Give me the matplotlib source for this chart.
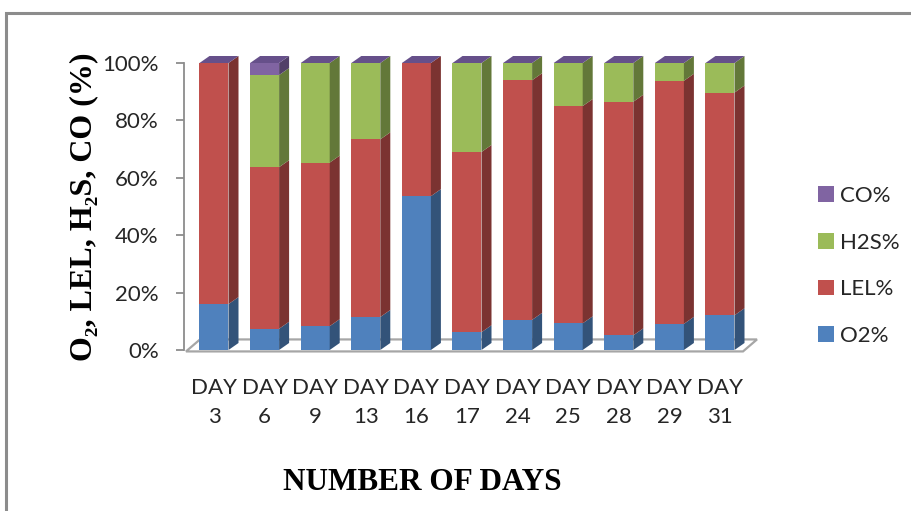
import numpy as np
import matplotlib.pyplot as plt
from matplotlib.patches import Polygon, Patch, Rectangle
from matplotlib.colors import to_rgb

plt.rcParams['font.family'] = ['Lato', 'DejaVu Sans']

# Sampling days and gas shares (% of each column)
days = ['3', '6', '9', '13', '16', '17', '24', '25', '28', '29', '31']
o2 = [16.0, 7.4, 8.3, 11.5, 53.6, 6.2, 10.5, 9.3, 5.1, 9.1, 12.1]
lel = [84.0, 56.3, 57.0, 61.9, 46.4, 62.8, 83.5, 75.7, 81.4, 84.7, 77.6]
h2s = [0.0, 32.1, 34.7, 26.6, 0.0, 31.0, 6.0, 15.0, 13.5, 6.2, 10.3]
co = [0.0, 4.2, 0.0, 0.0, 0.0, 0.0, 0.0, 0.0, 0.0, 0.0, 0.0]

series = [('O2%', o2, '#4f81bd'), ('LEL%', lel, '#c0504d'),
          ('H2S%', h2s, '#9bbb59'), ('CO%', co, '#8064a2')]

def shade(c, f):
    r, g, b = to_rgb(c)
    return (r * f, g * f, b * f)

fig = plt.figure(figsize=(9.12, 5.11), dpi=100)
W, H = 912, 511
# axes placed in pixel terms: x index 0 at 214px, 50.6px per bar; y 0..100 -> 350..63px
px_per_bar = 50.6
xl, xr = -0.6, 10.6
ax_left = 214 + xl * px_per_bar
ax_w = (xr - xl) * px_per_bar
ax_bot = 350
ax_h = 350 - 63
ax = fig.add_axes([ax_left / W, 1 - ax_bot / H, ax_w / W, ax_h / H])
ax.set_xlim(xl, xr)
ax.set_ylim(0, 100)

ppu_y = ax_h / 100.0
bw = 29 / px_per_bar
ddx, ddy = 10 / px_per_bar, 7 / ppu_y          # bar depth
fdx, fdy = 14 / px_per_bar, 12 / ppu_y         # floor depth

x = np.arange(len(days))

# floor
f0, f1 = (186 - 214) / px_per_bar, (743 - 214) / px_per_bar
floor = Polygon([(f0, -0.5), (f1, -0.5), (f1 + fdx, -0.5 + fdy), (f0 + fdx, -0.5 + fdy)],
                closed=True, facecolor='white', edgecolor='#a6a6a6', lw=1.6,
                clip_on=False, zorder=1)
ax.add_patch(floor)

bottom = np.zeros(len(days))
for name, vals, col in series:
    vals = np.array(vals)
    for i in range(len(days)):
        if vals[i] <= 0:
            continue
        y0, y1 = bottom[i], bottom[i] + vals[i]
        xa, xb = x[i] - bw / 2, x[i] + bw / 2
        ax.add_patch(Rectangle((xa, y0), bw, vals[i], facecolor=col,
                               edgecolor='none', clip_on=False, zorder=3))
        side = [(xb, y0), (xb + ddx, y0 + ddy), (xb + ddx, y1 + ddy), (xb, y1)]
        ax.add_patch(Polygon(side, closed=True, facecolor=shade(col, 0.64),
                             edgecolor='none', clip_on=False, zorder=3))
    bottom += vals

# top face of every column
for i in range(len(days)):
    xa, xb = x[i] - bw / 2, x[i] + bw / 2
    top = bottom[i]
    ax.add_patch(Polygon([(xa, top), (xb, top), (xb + ddx, top + ddy), (xa + ddx, top + ddy)],
                         closed=True, facecolor='#66508a', edgecolor='none',
                         clip_on=False, zorder=4))

for s in ['top', 'right', 'bottom']:
    ax.spines[s].set_visible(False)
ax.spines['left'].set_color('#8c8c8c')
ax.spines['left'].set_linewidth(1.3)
ax.set_yticks([0, 20, 40, 60, 80, 100])
ax.set_yticklabels(['0%', '20%', '40%', '60%', '80%', '100%'])
ax.tick_params(axis='y', direction='out', length=6, width=1.3, color='#8c8c8c',
               pad=12, labelsize=16, labelcolor='#262626')
ax.set_xticks(x)
ax.set_xticklabels(['DAY\n' + d for d in days], linespacing=1.6)
ax.tick_params(axis='x', length=0, pad=20, labelsize=16, labelcolor='#262626')
ax.patch.set_visible(False)

ax.set_ylabel('O\u2082, LEL, H\u2082S, CO (%)', family=['Liberation Serif', 'DejaVu Serif'],
              weight='bold', fontsize=23, labelpad=3)
fig.text(422 / W, 1 - 482 / H, 'NUMBER OF DAYS', family='Liberation Serif',
         weight='bold', fontsize=22.5, ha='center', va='center')

handles = [Patch(facecolor=c, label=n) for n, _, c in reversed(series)]
fig.legend(handles=handles, loc='center left', bbox_to_anchor=(798 / W, 1 - 266 / H),
           frameon=False, fontsize=16, handlelength=0.7, handleheight=0.7,
           handletextpad=0.3, labelspacing=1.2, labelcolor='#262626')

# chart frame
fig.add_artist(Rectangle((6 / W, -0.1), 1.2, 1 - 13 / H + 0.1, transform=fig.transFigure,
                         fill=False, edgecolor='#8c8c8c', lw=2.2))

fig.savefig('out.png', dpi=100)
